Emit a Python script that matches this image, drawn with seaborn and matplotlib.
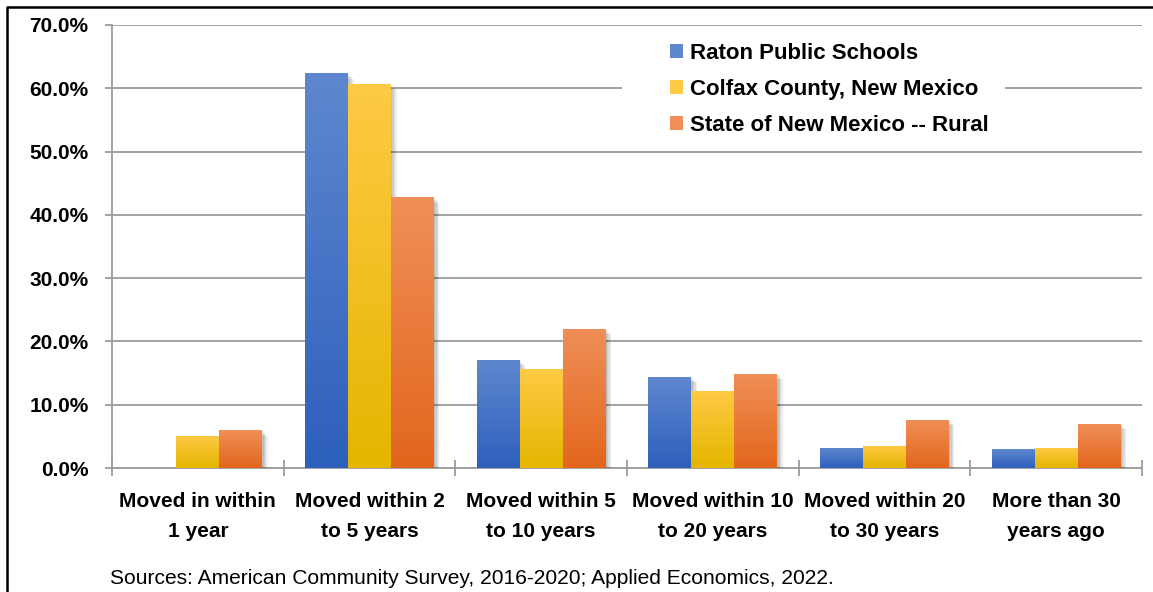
import numpy as np
import pandas as pd
import matplotlib
matplotlib.use("Agg")
import matplotlib.pyplot as plt
import matplotlib.patheffects as pe
from matplotlib import font_manager
from matplotlib.patches import Patch, Rectangle
from matplotlib.lines import Line2D
from matplotlib.colors import to_rgb
import seaborn as sns

# ---- data -------------------------------------------------------------
categories = [
    "Moved in within\n1 year",
    "Moved within 2\nto 5 years",
    "Moved within 5\nto 10 years",
    "Moved within 10\nto 20 years",
    "Moved within 20\nto 30 years",
    "More than 30\nyears ago",
]
series_names = [
    "Raton Public Schools",
    "Colfax County, New Mexico",
    "State of New Mexico -- Rural",
]
raton = [np.nan, 62.4, 17.1, 14.4, 3.2, 3.0]
colfax = [5.1, 60.7, 15.6, 12.2, 3.5, 3.2]
state_rural = [6.0, 42.8, 22.0, 14.9, 7.6, 7.0]
y_ticks = [0, 10, 20, 30, 40, 50, 60, 70]
source_note = "Sources: American Community Survey, 2016-2020; Applied Economics, 2022."

# ---- style ------------------------------------------------------------
base_colors = ["#3F6FC6", "#FCC10A", "#EF7A2E"]
# (top, bottom) colours of the vertical gradient used on each series
gradients = [
    ("#5F87CF", "#2D60BC"),
    ("#FFCA45", "#E5B500"),
    ("#F08F58", "#E2661C"),
]

sns.set_theme(style="white")
installed = {f.name for f in font_manager.fontManager.ttflist}
narrow = "Liberation Sans Narrow" if "Liberation Sans Narrow" in installed else "Liberation Sans"
plt.rcParams["font.family"] = [narrow, "DejaVu Sans"]

df = pd.DataFrame({
    "category": categories * 3,
    "series": np.repeat(series_names, len(categories)),
    "value": raton + colfax + state_rural,
})

W, H = 1153, 592
fig = plt.figure(figsize=(W / 100, H / 100), dpi=100)
ax = fig.add_axes([112 / W, 1 - 468 / H, (1142 - 112) / W, (468 - 25) / H])

sns.barplot(
    data=df, x="category", y="value", hue="series",
    order=categories, hue_order=series_names,
    palette=base_colors, width=0.75, saturation=1,
    legend=False, ax=ax, zorder=3,
)

# gradient fill + soft shadow on every bar
color_lookup = {tuple(np.round(to_rgb(c), 3)): g for c, g in zip(base_colors, gradients)}
shadow = [pe.SimplePatchShadow(offset=(k, -k), shadow_rgbFace="#000000", alpha=0.07)
          for k in (4, 3, 2, 1)]
for bar in list(ax.patches):
    h = bar.get_height()
    if not np.isfinite(h) or h <= 0:
        continue
    x0, w = bar.get_x(), bar.get_width()
    key = tuple(np.round(bar.get_facecolor()[:3], 3))
    top, bottom = color_lookup.get(key, (bar.get_facecolor(), bar.get_facecolor()))
    t = np.linspace(0, 1, 128)[:, None]
    grad = (1 - t) * np.array(to_rgb(top)) + t * np.array(to_rgb(bottom))
    img = ax.imshow(grad[:, None, :], extent=[x0, x0 + w, 0, h],
                    aspect="auto", origin="upper", zorder=3.5, interpolation="bilinear")
    img.set_clip_path(bar)
    bar.set_edgecolor("none")
    bar.set_path_effects(shadow + [pe.Normal()])

ax.set_xlim(-0.5, len(categories) - 0.5)
ax.set_ylim(0, 70)

# axes, ticks and grid
grid_color = "#9C9C9C"
ax.set_yticks(y_ticks)
ax.set_yticklabels([f"{v:.1f}%" for v in y_ticks])
ax.yaxis.grid(True, color=grid_color, linewidth=1.3, zorder=0)
ax.set_axisbelow(True)
for side in ["top", "right"]:
    ax.spines[side].set_visible(False)
for side in ["left", "bottom"]:
    ax.spines[side].set_color(grid_color)
    ax.spines[side].set_linewidth(1.3)

ax.set_xticks(range(len(categories)))
ax.set_xticklabels(categories, linespacing=1.75)
ax.set_xticks(np.arange(-0.5, len(categories), 1.0), minor=True)
ax.tick_params(axis="x", which="major", length=0, pad=17, labelsize=15)
ax.tick_params(axis="x", which="minor", length=11.5, width=1.3, direction="inout",
               color=grid_color, bottom=True)
ax.tick_params(axis="y", which="major", length=5, width=1.3, direction="out",
               color=grid_color, pad=12, labelsize=15, left=True)
for lbl in ax.get_xticklabels() + ax.get_yticklabels():
    lbl.set_fontweight("bold")
    lbl.set_color("black")
ax.set_xlabel("")
ax.set_ylabel("")

# white panel behind the legend, interrupting the gridlines
fig.add_artist(Rectangle((622 / W, 1 - 140 / H), (1005 - 622) / W, 105 / H,
                         transform=fig.transFigure, facecolor="white",
                         edgecolor="none", zorder=9))

handles = [Patch(facecolor=gradients[i][0], edgecolor="none") for i in range(3)]
leg = fig.legend(
    handles, series_names, loc="upper left",
    bbox_to_anchor=(670 / W, 1 - 43 / H),
    prop={"weight": "bold", "size": 16},
    frameon=False,
    handlelength=0.6, handleheight=0.6, handletextpad=0.3,
    labelspacing=0.67, borderpad=0.0, borderaxespad=0,
)
leg.set_zorder(10)
for txt in leg.get_texts():
    txt.set_color("black")

# source note
fig.text(110 / W, 1 - 578 / H, source_note, ha="left", va="center",
         fontsize=15.1, color="black")

# outer frame on the left and top edges
fig.add_artist(Line2D([7 / W, 7 / W, 1], [0, 1 - 7 / H, 1 - 7 / H],
                      transform=fig.transFigure, color="black", linewidth=1.8))

fig.savefig("out.png", dpi=100)
